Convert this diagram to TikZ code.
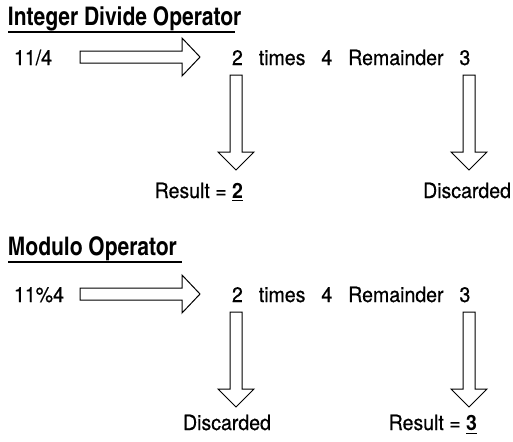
\documentclass[tikz,border=0pt]{standalone}
\usepackage{fontspec}
\setmainfont{TeX Gyre Heros}[FakeStretch=0.93,UprightFeatures={FakeBold=0.6}]
\newfontfamily\headfont{texgyreheroscn}[Extension=.otf,UprightFont=*-bold]
\usetikzlibrary{positioning,calc}

% block arrows, shaft half width 6, head half width 19, head length 18
\newcommand{\rightblock}[2]{%
  \draw[blockline] ($(#1)+(0,-6)$) -- ($(#2)+(-18,-6)$) -- ($(#2)+(-18,-19)$)
    -- (#2) -- ($(#2)+(-18,19)$) -- ($(#2)+(-18,6)$) -- ($(#1)+(0,6)$) -- cycle;}
\newcommand{\downblock}[2]{%
  \draw[blockline] ($(#1)+(-6,0)$) -- ($(#2)+(-6,-18)$) -- ($(#2)+(-18,-18)$)
    -- (#2) -- ($(#2)+(18,-18)$) -- ($(#2)+(6,-18)$) -- ($(#1)+(6,0)$) -- cycle;}
\newcommand{\gap}{\hspace{0.76em}}

\begin{document}
\begin{tikzpicture}[x=0.5pt,y=-0.5pt,
  every node/.style={inner sep=0pt,outer sep=0pt},
  body/.style={font=\fontsize{10.5}{12}\selectfont},
  heading/.style={font=\fontsize{12.8}{14}\selectfont\headfont},
  blockline/.style={draw=black,line width=0.5pt,fill=white},
  rule/.style={line width=1pt}]
\useasboundingbox (0,0) rectangle (513,441);

\def\ya{57}
\def\yb{294}

% integer divide
\node[heading,anchor=base west](title1) at (8,25) {Integer Divide Operator};
\draw[rule] (8,32) -- (235,32);

\node[body,anchor=base west](expr1) at (14,65) {11/4};
\coordinate(as1) at (80,\ya);
\coordinate(ae1) at (200,\ya);
\rightblock{as1}{ae1}
\node[body,anchor=base west](line1) at (232,65) {2\gap times\gap 4\gap Remainder\gap 3};

\coordinate(d1s) at (236,75);
\coordinate(d1e) at (236,170);
\coordinate(d2s) at (469,75);
\coordinate(d2e) at (469,170);
\downblock{d1s}{d1e}
\downblock{d2s}{d2e}

\node[body,anchor=base east](res1) at (243,198) {Result = \underline{\textbf{2}}};
\node[body,anchor=base east](disc1) at (511,198) {Discarded};

% modulo
\node[heading,anchor=base west](title2) at (8,255) {Modulo Operator};
\draw[rule] (8,262) -- (182,262);

\node[body,anchor=base west](expr2) at (14,302) {11\%4};
\coordinate(as2) at (80,\yb);
\coordinate(ae2) at (200,\yb);
\rightblock{as2}{ae2}
\node[body,anchor=base west](line2) at (232,302) {2\gap times\gap 4\gap Remainder\gap 3};

\coordinate(d3s) at (236,312);
\coordinate(d3e) at (236,407);
\coordinate(d4s) at (469,312);
\coordinate(d4e) at (469,407);
\downblock{d3s}{d3e}
\downblock{d4s}{d4e}

\node[body,anchor=base](disc2) at (227,430) {Discarded};
\node[body,anchor=base east](res2) at (477,430) {Result = \underline{\textbf{3}}};

\end{tikzpicture}
\end{document}
